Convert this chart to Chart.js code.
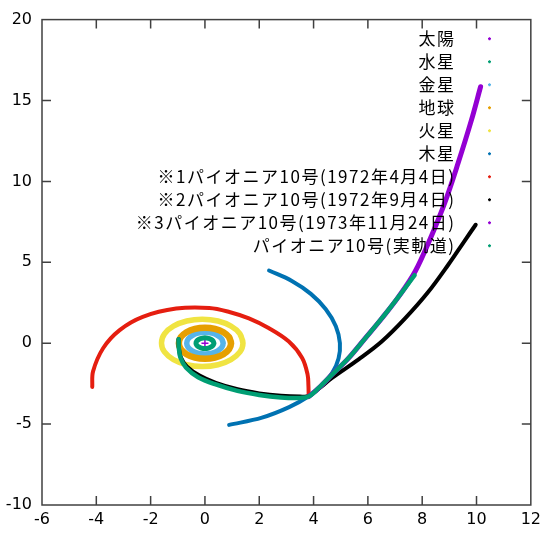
<!DOCTYPE html>
<html><head><meta charset="utf-8">
<script src="https://cdn.jsdelivr.net/npm/chart.js@4/dist/chart.umd.min.js"></script>
<style>html,body{margin:0;padding:0;background:#fff;}canvas{display:block;}</style>
</head><body>
<canvas id="c" width="546" height="540"></canvas>
<script>
// ---- data ----
const seriesNames = ['太陽','水星','金星','地球','火星','木星',
  '※1パイオニア10号(1972年4月4日)','※2パイオニア10号(1972年9月4日)',
  '※3パイオニア10号(1973年11月24日)','パイオニア10号(実軌道)'];
const xTickValues = [-6,-4,-2,0,2,4,6,8,10,12];
const yTickValues = [-10,-5,0,5,10,15,20];

const sunX = [0];
const sunY = [0];
const mercuryX = [0.33,0.30,0.23,0.13,0,-0.13,-0.23,-0.30,-0.33,-0.30,-0.23,-0.13,0,0.13,0.23,0.30,0.33,0.30];
const mercuryY = [0,0.13,0.23,0.30,0.33,0.30,0.23,0.13,0,-0.13,-0.23,-0.30,-0.33,-0.30,-0.23,-0.13,0,0.13];
const venusX = [0.67,0.62,0.47,0.26,0,-0.26,-0.47,-0.62,-0.67,-0.62,-0.47,-0.26,0,0.26,0.47,0.62,0.67,0.62];
const venusY = [0,0.26,0.47,0.62,0.67,0.62,0.47,0.26,0,-0.26,-0.47,-0.62,-0.67,-0.62,-0.47,-0.26,0,0.26];
const earthX = [0.96,0.89,0.68,0.37,0,-0.37,-0.68,-0.89,-0.96,-0.89,-0.68,-0.37,0,0.37,0.68,0.89,0.96,0.89];
const earthY = [0,0.37,0.68,0.89,0.96,0.89,0.68,0.37,0,-0.37,-0.68,-0.89,-0.96,-0.89,-0.68,-0.37,0,0.37];
const marsX = [1.40,1.29,0.96,0.48,-0.10,-0.67,-1.16,-1.49,-1.60,-1.49,-1.16,-0.67,-0.10,0.48,0.96,1.29,1.40,1.29];
const marsY = [0.02,0.58,1.05,1.37,1.48,1.37,1.05,0.58,0.02,-0.54,-1.01,-1.33,-1.44,-1.33,-1.01,-0.54,0.02,0.58];
const jupiterX = [2.36,3.20,3.90,4.45,4.82,4.97,4.92,4.70,4.32,3.82,3.10,2.10,0.89];
const jupiterY = [4.49,3.85,3.05,2.10,1.05,0.00,-0.95,-1.80,-2.60,-3.28,-3.95,-4.60,-5.05];
const pioneer1X = [3.82,3.81,3.78,3.58,3.09,2.36,1.62,0.90,0.16,-1.06,-2.29,-3.14,-3.75,-4.12,-4.15];
const pioneer1Y = [-3.25,-2.60,-1.94,-0.92,0.10,0.92,1.53,1.93,2.18,2.14,1.63,0.81,-0.31,-1.74,-2.70];
const pioneer2X = [-0.97,-0.96,-0.88,-0.66,-0.20,0.40,1.20,2.00,2.80,3.50,3.82,4.20,4.68,5.66,6.51,7.37,8.22,8.96,9.55,9.97];
const pioneer2Y = [0.25,-0.30,-0.90,-1.45,-2.00,-2.45,-2.85,-3.10,-3.25,-3.30,-3.27,-2.80,-2.15,-1.00,0.10,1.53,3.16,4.85,6.30,7.32];
const pioneer3X = [3.82,4.20,4.68,5.29,5.90,6.51,7.12,7.73,8.34,8.83,9.32,9.81,10.15];
const pioneer3Y = [-3.30,-2.75,-1.94,-0.92,0.30,1.53,2.85,4.40,6.63,8.67,11.12,13.77,15.85];
const actualX = [-0.97,-0.96,-0.90,-0.70,-0.25,0.40,1.20,2.00,2.80,3.50,3.82,4.20,4.68,5.29,5.90,6.51,7.12,7.72];
const actualY = [0.25,-0.30,-0.90,-1.50,-2.10,-2.55,-2.95,-3.20,-3.35,-3.38,-3.30,-2.75,-1.94,-0.92,0.30,1.53,2.85,4.20];

// ---- styles ----
const seriesColors = ['#9400d3','#009e73','#56b4e9','#e69f00','#f0e442','#0072b2','#e51e10','#000000','#9400d3','#009e73'];
const lineWidths = [0,5,5.5,6.5,5.5,4,4,4,5,4.5];

const xs = [sunX,mercuryX,venusX,earthX,marsX,jupiterX,pioneer1X,pioneer2X,pioneer3X,actualX];
const ys = [sunY,mercuryY,venusY,earthY,marsY,jupiterY,pioneer1Y,pioneer2Y,pioneer3Y,actualY];

const datasets = seriesNames.map((name,i)=>({
  label: name,
  data: xs[i].map((x,j)=>({x:x, y:ys[i][j]})),
  showLine: i>0,
  borderColor: seriesColors[i],
  backgroundColor: seriesColors[i],
  borderWidth: lineWidths[i],
  pointRadius: i===0 ? 3.5 : 0,
  pointHoverRadius: 0,
  pointStyle: 'cross',
  pointBorderWidth: 1.5,
  tension: (i>=1 && i<=4) ? 0.4 : 0.35,
  borderCapStyle: 'round',
  borderJoinStyle: 'round',
  order: 20 - i
}));

const framePlugin = {
  id: 'frame',
  beforeDatasetsDraw(chart){
    const {ctx, chartArea:a, scales:{x, y}} = chart;
    ctx.save();
    ctx.strokeStyle = '#404040';
    ctx.lineWidth = 1.5;
    ctx.strokeRect(a.left, a.top, a.right-a.left, a.bottom-a.top);
    const L = 9;
    ctx.beginPath();
    xTickValues.forEach(v=>{
      if (v<=x.min || v>=x.max) return;
      const p = x.getPixelForValue(v);
      ctx.moveTo(p, a.bottom); ctx.lineTo(p, a.bottom-L);
      ctx.moveTo(p, a.top); ctx.lineTo(p, a.top+L);
    });
    yTickValues.forEach(v=>{
      if (v<=y.min || v>=y.max) return;
      const p = y.getPixelForValue(v);
      ctx.moveTo(a.left, p); ctx.lineTo(a.left+L, p);
      ctx.moveTo(a.right, p); ctx.lineTo(a.right-L, p);
    });
    ctx.stroke();
    ctx.restore();
  },
  afterDatasetsDraw(chart){
    const ctx = chart.ctx;
    ctx.save();
    ctx.font = '17px "Noto Sans CJK JP"';
    try { ctx.letterSpacing = '1.5px'; } catch(e) {}
    ctx.textAlign = 'right';
    ctx.textBaseline = 'middle';
    seriesNames.forEach((n,i)=>{
      const yy = 38.5 + i*23.0;
      ctx.fillStyle = '#000';
      ctx.fillText(n, 455.5, yy);
      ctx.fillStyle = seriesColors[i];
      ctx.fillRect(488, yy-0.5, 3, 1.5);
      ctx.fillRect(488.75, yy-1.25, 1.5, 3);
    });
    ctx.restore();
  }
};

new Chart(document.getElementById('c'), {
  type: 'scatter',
  data: { datasets },
  options: {
    responsive: false,
    animation: false,
    devicePixelRatio: 1,
    layout: { padding: { left: 0, right: 13, top: 14, bottom: 0 } },
    plugins: { legend: { display: false }, tooltip: { enabled: false } },
    events: [],
    scales: {
      x: {
        type: 'linear', min: -6, max: 12,
        afterBuildTicks: s => { s.ticks = xTickValues.map(v=>({value:v})); },
        ticks: { autoSkip: false, maxRotation: 0, padding: 5, color: '#000',
                 font: { family: 'DejaVu Sans', size: 16 } },
        grid: { display: false, drawTicks: false },
        border: { display: false },
        afterFit: s => { s.height = 35; }
      },
      y: {
        type: 'linear', min: -10, max: 20,
        afterBuildTicks: s => { s.ticks = yTickValues.map(v=>({value:v})); },
        ticks: { autoSkip: false, padding: 10, color: '#000',
                 font: { family: 'DejaVu Sans', size: 16 } },
        grid: { display: false, drawTicks: false },
        border: { display: false },
        afterFit: s => { s.width = 42; }
      }
    }
  },
  plugins: [framePlugin]
});
</script>
</body></html>
